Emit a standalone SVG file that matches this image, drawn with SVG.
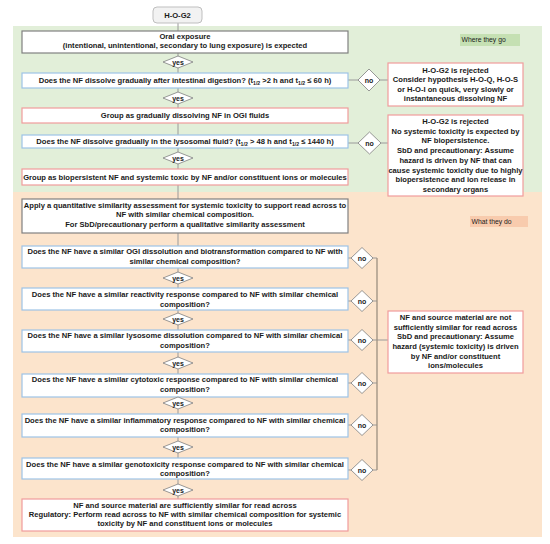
<svg xmlns="http://www.w3.org/2000/svg" width="550" height="544" viewBox="0 0 550 544">
<style>
text{font-family:"Liberation Sans",Arial,sans-serif;font-weight:bold;font-size:7.6px;fill:#1a1a1a;text-anchor:middle}
.lbl{font-weight:normal;font-size:6.8px;text-anchor:start}
.sub{font-size:5.2px}
.box{fill:#fff;stroke-width:1.2}
.gray{stroke:#808080}
.blue{stroke:#9dc3e6}
.red{stroke:#f19c9c}
.dia{fill:#fff;stroke:#7f7f7f;stroke-width:0.8}
.con line,.con polyline{stroke:#9a9a9a;stroke-width:1;fill:none}
.dt{font-size:7px}
</style>
<rect x="13" y="26" width="529" height="166" fill="#e2efd9"/>
<rect x="13" y="192" width="529" height="345" fill="#fce4cc"/>
<g id="label-go"><rect x="460" y="34" width="60" height="12" fill="#c5e0b3"/><text class="lbl" x="461.5" y="42.4">Where they go</text></g>
<g id="label-do"><rect x="470" y="216" width="58" height="11" fill="#f8cbad"/><text class="lbl" x="471.5" y="224">What they do</text></g>
<g class="con" id="connectors">
<line x1="178" y1="23" x2="178" y2="31"/>
<line x1="178" y1="53" x2="178" y2="73"/>
<line x1="178" y1="88" x2="178" y2="108"/>
<line x1="178" y1="123" x2="178" y2="135"/>
<line x1="178" y1="148" x2="178" y2="169"/>
<line x1="178" y1="185" x2="178" y2="199"/>
<line x1="178" y1="233" x2="178" y2="246"/>
<line x1="178" y1="268" x2="178" y2="288"/>
<line x1="178" y1="310" x2="178" y2="330"/>
<line x1="178" y1="352" x2="178" y2="374"/>
<line x1="178" y1="397" x2="178" y2="414"/>
<line x1="178" y1="437" x2="178" y2="458"/>
<line x1="178" y1="479" x2="178" y2="499"/>
<line x1="348" y1="80" x2="388" y2="80"/>
<line x1="348" y1="143" x2="388" y2="143"/>
<line x1="348" y1="258" x2="377" y2="258"/>
<line x1="348" y1="301" x2="377" y2="301"/>
<line x1="348" y1="340" x2="388" y2="340"/>
<line x1="348" y1="383" x2="377" y2="383"/>
<line x1="348" y1="425" x2="377" y2="425"/>
<line x1="348" y1="470" x2="377" y2="470"/>
<line x1="377" y1="258" x2="377" y2="470" style="stroke:#9c8f80;stroke-width:1.3"/>
</g>
<g id="start"><rect x="153" y="7" width="49" height="16" rx="4" fill="#f2f2f2" stroke="#bfbfbf"/><text x="177.5" y="17.7">H-O-G2</text></g>
<g id="oral"><rect class="box gray" x="22" y="31" width="326" height="22"/><text x="185" y="38.8">Oral exposure</text><text x="185" y="48.3">(intentional, unintentional, secondary to lung exposure) is expected</text></g>
<g id="q1"><rect class="box blue" x="22" y="73" width="326" height="15"/><text x="185" y="83.2">Does the NF dissolve gradually after intestinal digestion? (t<tspan class="sub" dy="1.5">1/2</tspan><tspan dy="-1.5"> &gt;2 h and  t</tspan><tspan class="sub" dy="1.5">1/2</tspan><tspan dy="-1.5"> ≤  60 h)</tspan></text></g>
<g id="g1"><rect class="box red" x="22" y="108" width="326" height="15"/><text x="185" y="118.2">Group as gradually dissolving NF in OGI fluids</text></g>
<g id="q2"><rect class="box blue" x="22" y="135" width="326" height="13"/><text x="185" y="144.2">Does the NF dissolve gradually in the lysosomal fluid?  (t<tspan class="sub" dy="1.5">1/2</tspan><tspan dy="-1.5"> &gt; 48 h and t</tspan><tspan class="sub" dy="1.5">1/2</tspan><tspan dy="-1.5"> ≤ 1440 h)</tspan></text></g>
<g id="g2"><rect class="box red" x="22" y="169" width="326" height="16"/><text x="185" y="179.7">Group as biopersistent NF and systemic toxic by NF and/or constituent ions or molecules</text></g>
<g id="apply"><rect class="box gray" x="22" y="199" width="326" height="34"/><text x="185" y="207.7">Apply a quantitative similarity assessment for systemic toxicity to support read across to</text><text x="185" y="217.2">NF with similar chemical composition.</text><text x="185" y="226.7">For SbD/precautionary perform a qualitative similarity assessment</text></g>
<g id="q3"><rect class="box blue" x="22" y="246" width="326" height="22"/><text x="185" y="254.2">Does  the NF have a similar OGI dissolution and biotransformation compared to NF with</text><text x="185" y="264.2">similar chemical composition?</text></g>
<g id="q4"><rect class="box blue" x="22" y="288" width="326" height="22"/><text x="185" y="296.7">Does the NF have a similar reactivity response compared to NF with similar chemical</text><text x="185" y="306.7">composition?</text></g>
<g id="q5"><rect class="box blue" x="22" y="330" width="326" height="22"/><text x="185" y="338.2">Does  the NF have a similar lysosome dissolution compared to NF with similar chemical</text><text x="185" y="348.2">composition?</text></g>
<g id="q6"><rect class="box blue" x="22" y="374" width="326" height="23"/><text x="185" y="382.2">Does the NF have a similar cytotoxic response compared to NF with similar chemical</text><text x="185" y="392.2">composition?</text></g>
<g id="q7"><rect class="box blue" x="22" y="414" width="326" height="23"/><text x="185" y="422.7">Does the NF have a similar inflammatory response compared to NF with similar chemical</text><text x="185" y="432.2">composition?</text></g>
<g id="q8"><rect class="box blue" x="22" y="458" width="326" height="21"/><text x="185" y="466.7">Does the NF have a similar genotoxicity response compared to NF with similar chemical</text><text x="185" y="476.2">composition?</text></g>
<g id="final"><rect class="box red" x="22" y="499" width="326" height="32"/><text x="185" y="507.7">NF and source material are sufficiently similar for read across</text><text x="185" y="516.7">Regulatory: Perform read across to NF with similar chemical composition for systemic</text><text x="185" y="526.2">toxicity by NF and constituent ions or molecules</text></g>
<g id="reject1"><rect class="box red" x="388" y="63" width="135" height="43"/><text x="455.5" y="72.7">H-O-G2 is rejected</text><text x="455.5" y="82.2">Consider hypothesis  H-O-Q, H-O-S</text><text x="455.5" y="91.7">or H-O-I on quick, very slowly or</text><text x="455.5" y="101.2">instantaneous dissolving NF</text></g>
<g id="reject2"><rect class="box red" x="388" y="115" width="135" height="81"/><text x="455.5" y="123.7">H-O-G2 is rejected</text><text x="455.5" y="133.7">No systemic toxicity is expected by</text><text x="455.5" y="143.2">NF biopersistence.</text><text x="455.5" y="153.2">SbD and precautionary: Assume</text><text x="455.5" y="162.7">hazard is driven by NF that can</text><text x="455.5" y="172.7">cause systemic toxicity due to highly</text><text x="455.5" y="182.2">biopersistence and ion release in</text><text x="455.5" y="191.7">secondary organs</text></g>
<g id="reject3"><rect class="box red" x="388" y="311" width="135" height="62"/><text x="455.5" y="319.7">NF and source material are not</text><text x="455.5" y="329.7">sufficiently similar for read across</text><text x="455.5" y="338.7">SbD and precautionary: Assume</text><text x="455.5" y="348.7">hazard (systemic toxicity) is driven</text><text x="455.5" y="358.7">by NF and/or constituent</text><text x="455.5" y="367.7">ions/molecules</text></g>
<g id="yes1"><polygon class="dia" points="163,62 178,56 193,62 178,68"/><text class="dt" x="178" y="64.5">yes</text></g>
<g id="yes2"><polygon class="dia" points="163,98 178,92 193,98 178,104"/><text class="dt" x="178" y="100.5">yes</text></g>
<g id="yes3"><polygon class="dia" points="163,158 178,152 193,158 178,164"/><text class="dt" x="178" y="160.5">yes</text></g>
<g id="yes4"><polygon class="dia" points="163,278 178,272 193,278 178,284"/><text class="dt" x="178" y="280.5">yes</text></g>
<g id="yes5"><polygon class="dia" points="163,319 178,313 193,319 178,325"/><text class="dt" x="178" y="321.5">yes</text></g>
<g id="yes6"><polygon class="dia" points="163,363 178,357 193,363 178,369"/><text class="dt" x="178" y="365.5">yes</text></g>
<g id="yes7"><polygon class="dia" points="163,403 178,397 193,403 178,409"/><text class="dt" x="178" y="405.5">yes</text></g>
<g id="yes8"><polygon class="dia" points="163,447 178,441 193,447 178,453"/><text class="dt" x="178" y="449.5">yes</text></g>
<g id="yes9"><polygon class="dia" points="163,490 178,484 193,490 178,496"/><text class="dt" x="178" y="492.5">yes</text></g>
<g id="no1"><polygon class="dia" points="358,80 369,69 380,80 369,91"/><text class="dt" x="369" y="82.5">no</text></g>
<g id="no2"><polygon class="dia" points="358,143 369.5,132 381,143 369.5,154"/><text class="dt" x="369.5" y="145.5">no</text></g>
<g id="no3"><polygon class="dia" points="351,258 362,247.5 373,258 362,268.5"/><text class="dt" x="362" y="260.5">no</text></g>
<g id="no4"><polygon class="dia" points="351,301 362,290.5 373,301 362,311.5"/><text class="dt" x="362" y="303.5">no</text></g>
<g id="no5"><polygon class="dia" points="351,340 362,329.5 373,340 362,350.5"/><text class="dt" x="362" y="342.5">no</text></g>
<g id="no6"><polygon class="dia" points="351,383 362,372.5 373,383 362,393.5"/><text class="dt" x="362" y="385.5">no</text></g>
<g id="no7"><polygon class="dia" points="351,425 362,414.5 373,425 362,435.5"/><text class="dt" x="362" y="427.5">no</text></g>
<g id="no8"><polygon class="dia" points="351,470 362,459.5 373,470 362,480.5"/><text class="dt" x="362" y="472.5">no</text></g>
</svg>
